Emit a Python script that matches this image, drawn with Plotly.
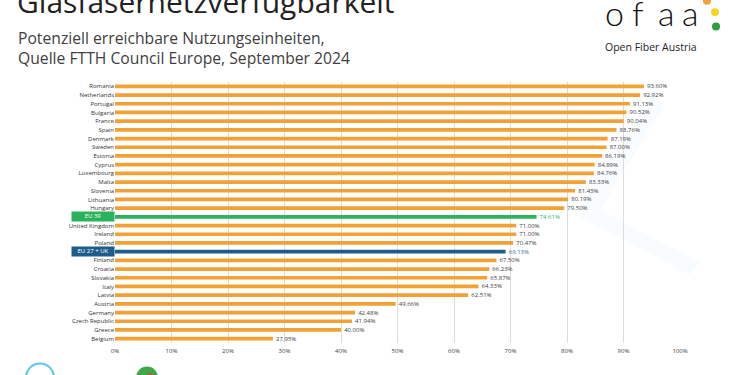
import plotly.graph_objects as go

countries = ["Romania", "Netherlands", "Portugal", "Bulgaria", "France", "Spain", "Denmark",
             "Sweden", "Estonia", "Cyprus", "Luxembourg", "Malta", "Slovenia", "Lithuania",
             "Hungary", "EU 39", "United Kingdom", "Ireland", "Poland", "EU 27 + UK", "Finland",
             "Croatia", "Slovakia", "Italy", "Latvia", "Austria", "Germany", "Czech Republic",
             "Greece", "Belgium"]
values = [93.60, 92.92, 91.13, 90.52, 90.04, 88.76, 87.19, 87.00, 86.19, 84.89, 84.76, 83.33,
          81.43, 80.19, 79.50, 74.61, 71.00, 71.00, 70.47, 69.13, 67.50, 66.23, 65.87, 64.33,
          62.51, 49.66, 42.48, 41.94, 40.00, 27.95]
x_ticks = [0, 10, 20, 30, 40, 50, 60, 70, 80, 90, 100]

ORANGE = "#F2A137"
GREEN = "#2BB35B"
BLUE = "#1D5D8C"
special = {"EU 39": (GREEN, "#2DB55D"), "EU 27 + UK": (BLUE, "#2E6FA3")}

bar_colors = [special[c][0] if c in special else ORANGE for c in countries]
text_colors = [special[c][1] if c in special else "#404040" for c in countries]

W, H = 750, 375
ML, MR, MT, MB = 115, 70, 81.6, 31.6

def pxX(p):
    return (p - ML) / (W - ML - MR)

def pxY(p):
    return (H - MB - p) / (H - MT - MB)

fig = go.Figure()
fig.add_trace(go.Bar(
    x=[v / 100 for v in values], y=countries, orientation="h",
    marker=dict(color=bar_colors, line=dict(width=0)),
    width=0.42,
    text=["\u00a0\u00a0" + f"{v:.2f}%" for v in values], textposition="outside",
    textfont=dict(size=6, color=text_colors, family="Open Sans"),
    constraintext="none", cliponaxis=False, hoverinfo="skip",
))

ticktext = ["" if c in special else c for c in countries]

fig.update_layout(
    width=W, height=H,
    margin=dict(l=ML, r=MR, t=MT, b=MB, autoexpand=False),
    paper_bgcolor="white", plot_bgcolor="rgba(0,0,0,0)",
    showlegend=False,
    font=dict(family="Open Sans", color="#404040"),
    xaxis=dict(range=[0, 1.0], tickvals=[t / 100 for t in x_ticks],
               ticktext=[f"{t}%" for t in x_ticks], tickfont=dict(size=6, color="#404040"),
               showgrid=True, gridcolor="#DCDCDC", gridwidth=1, zeroline=False,
               showline=False, ticks="", fixedrange=True, automargin=False,
               ticklabelstandoff=3),
    yaxis=dict(type="category", categoryorder="array", categoryarray=countries,
               range=[29.5, -0.5], tickvals=countries, ticktext=ticktext,
               tickfont=dict(size=6, color="#333333"), showgrid=False, ticks="",
               showline=False, fixedrange=True, automargin=False),
)

# faint background swoosh
fig.add_shape(type="path", xref="paper", yref="paper", layer="below",
              path=(f"M {pxX(650)} {pxY(95)} L {pxX(665)} {pxY(105)} L {pxX(600)} {pxY(210)} "
                    f"L {pxX(700)} {pxY(262)} L {pxX(690)} {pxY(275)} L {pxX(575)} {pxY(215)} Z"),
              fillcolor="rgba(215,232,246,0.15)", line=dict(width=0))

for c in special:
    fig.add_annotation(x=0, xref="paper", xanchor="right", y=c, yref="y",
                       text=c, showarrow=False, bgcolor=special[c][0],
                       font=dict(size=6, color="white"), width=40, height=6.5,
                       borderpad=1, align="center")

def text_px(x, y, txt, size, color, xanchor="left", yanchor="middle", family="Open Sans", weight=None):
    f = dict(size=size, color=color, family=family)
    if weight:
        f["weight"] = weight
    fig.add_annotation(x=pxX(x), y=pxY(y), xref="paper", yref="paper", text=txt,
                       showarrow=False, xanchor=xanchor, yanchor=yanchor, font=f)

# Title (partly cut at top) and subtitle
text_px(15, 23, "Glasfasernetzverfügbarkeit", 30, "#222222", yanchor="bottom")
text_px(16, 37, "Potenziell erreichbare Nutzungseinheiten,", 15.7, "#404040")
text_px(16, 58, "Quelle FTTH Council Europe, September 2024", 15.7, "#404040")

# Logo letters
for ch, cx in zip("ofaa", [614, 638, 666, 690]):
    text_px(cx, 12, ch, 34, "#111111", xanchor="center", family="Lato", weight=300)
text_px(651, 46, "Open Fiber Austria", 10.5, "#222222", xanchor="center")

def circle(cx, cy, r, color, line=None):
    fig.add_shape(type="circle", xref="paper", yref="paper",
                  x0=pxX(cx - r), x1=pxX(cx + r), y0=pxY(cy + r), y1=pxY(cy - r),
                  fillcolor=color if line is None else "rgba(0,0,0,0)",
                  line=dict(width=0 if line is None else 2, color=line or color))

circle(707, 0, 4, "#F2A137")
circle(715, 11.5, 4, "#F5D321")
circle(716, 26, 4, "#2E9E3E")

# Bottom-left partial logos
circle(40, 378, 14, None, line="#5BC4EA")
text_px(30, 370, "<b>FTTH</b>", 9, "#1a2a4a", yanchor="top")
circle(147, 378, 11, "#3FA94A")
circle(150, 379, 5, "#D9453A")

fig.write_html("out.html", config={"displayModeBar": False},
               post_script="document.body.style.margin='0';document.body.style.overflow='hidden';")
